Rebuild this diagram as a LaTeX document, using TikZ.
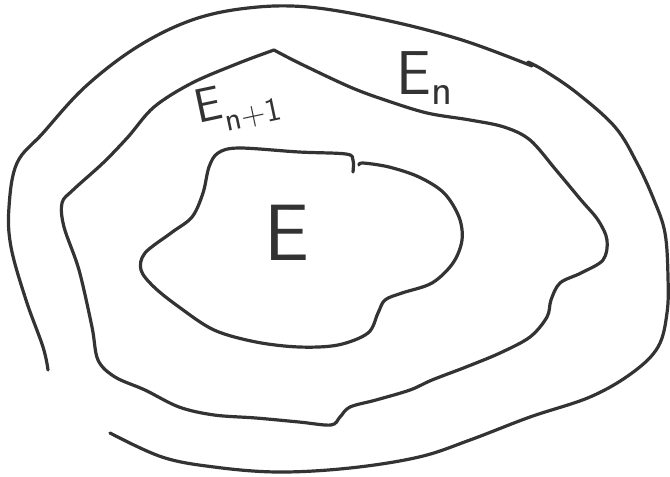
\documentclass[tikz,border=0pt]{standalone}
\usepackage{fontspec}
\definecolor{ink}{HTML}{333333}
\begin{document}
\begin{tikzpicture}[x=1pt,y=-1pt,
  curve/.style={line width=3.2pt, draw=ink, line cap=round, line join=round},
  lbl/.style={font=\sffamily, text=ink, inner sep=0pt}]
\useasboundingbox (0,0) rectangle (670,477);
% outer open curve
\draw[curve] plot[smooth, tension=0.6] coordinates {
 (48,370) (43,347) (26,300) (11,247) (9,207) (17,163) (43,133) (85,87)
 (137,47) (192,20) (248,8) (308,7) (385,20) (462,40) (532,66)};
\draw[curve] plot[smooth, tension=0.6] coordinates {
 (528,62) (545,71) (577,93) (615,127) (637,163) (654,200) (665,233) (668,277)
 (667,313) (658,347) (632,373) (590,397) (530,417) (470,440) (419,457)
 (350,468) (278,472) (214,467) (162,457) (110,433)};
% middle closed curve with a corner at the top
\draw[curve] plot[smooth, tension=0.55] coordinates {
 (274,50) (299,63) (350,87) (385,100) (427,113) (470,120) (504,127) (530,140)
 (556,170) (581,200) (598,220) (607,240) (603,260) (581,273) (560,283)
 (551,300) (547,317) (530,337) (500,353) (466,367) (432,380) (410,390)
 (376,400) (350,407) (340,417) (331,425) (299,422) (256,418) (214,415)
 (179,407) (145,390) (115,377) (98,360) (92,327) (79,270) (64,227) (62,203)
 (73,190) (103,163) (128,137) (154,107) (192,83) (239,63) (274,50)};
% inner curve
\draw[curve] plot[smooth, tension=0.55] coordinates {
 (353,172) (353,160) (346,154) (299,152) (239,148) (218,153) (209,167)
 (203,193) (192,217) (171,233) (145,253) (141,270) (154,287) (179,307)
 (214,330) (256,342) (299,347) (338,345) (368,333) (378,313) (385,300)
 (402,293) (432,283) (453,263) (462,240) (459,217) (444,193) (419,177)
 (389,167) (363,163) (359,165)};
% labels
\node[lbl, font=\sffamily\fontsize{80}{80}\selectfont] (e) at (287,233) {E};
\node[lbl, font=\sffamily\fontsize{62}{62}\selectfont] (en) at (425,78) {E\textsubscript{n}};
\node[lbl, font=\sffamily\fontsize{48}{48}\selectfont, rotate=12] (enp) at (238,106) {E\textsubscript{n+1}};
\end{tikzpicture}
\end{document}
